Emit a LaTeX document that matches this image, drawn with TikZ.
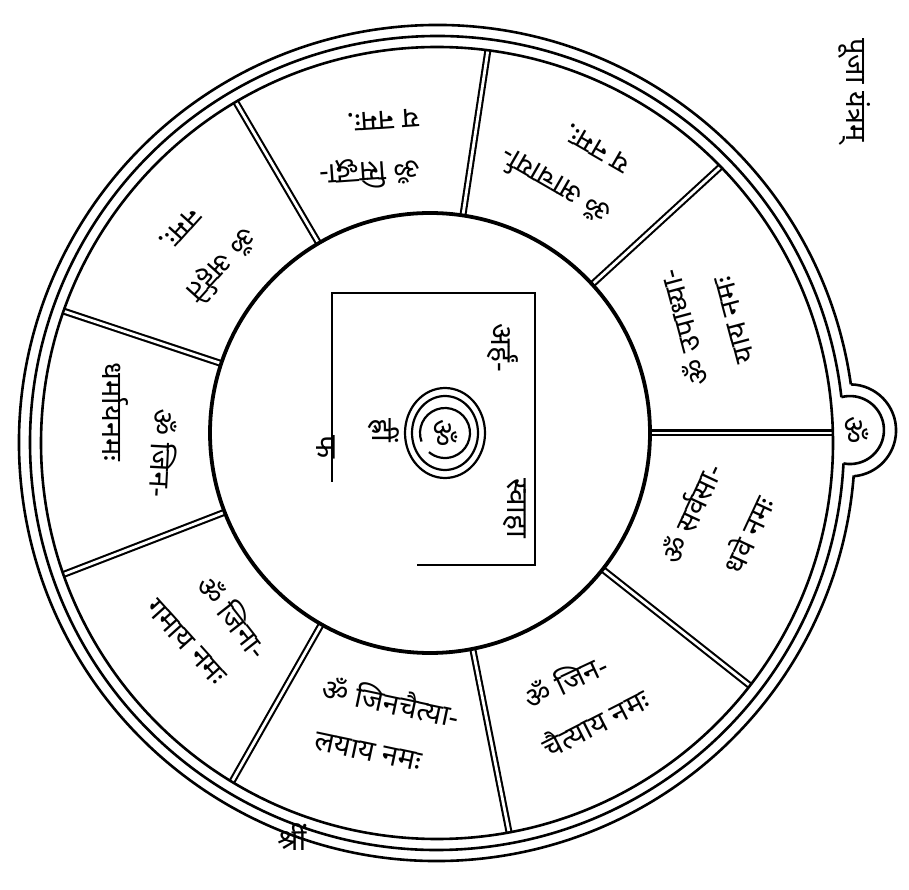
\documentclass[tikz,border=0pt]{standalone}
\usepackage{fontspec}
\newfontfamily\deva[Script=Devanagari]{Noto Sans}
\usetikzlibrary{calc}
\tikzset{
  ringline/.style={line width=2.6pt},
  divider/.style={line width=2.1pt, double distance=2.8pt},
  seg/.style={font=\deva\bfseries\fontsize{29}{31}\selectfont, inner sep=0pt},
  ctr/.style={font=\deva\bfseries\fontsize{30}{32}\selectfont, inner sep=0pt},
  rect/.style={line width=2.4pt},
}
\begin{document}
\begin{tikzpicture}[x=1pt,y=1pt]
\useasboundingbox (0,0) rectangle (909,889);
\coordinate (Co) at (437,446);
\coordinate (Ci) at (430,456);
\coordinate (L) at (850,459);
\coordinate (S) at (445,456);
% dividers
\begin{scope}
\clip (Co) circle[radius=396];
\foreach \a in {120.4,81.4,42.5,0,-38.3,-78.8,-119.6,-158.9,161.6}
  \draw[divider] ($(Ci)+(\a:200)$) -- ($(Ci)+(\a:430)$);
\end{scope}
% inner circle
\draw[line width=3.8pt, fill=white] (Ci) circle[radius=220];
% outer rings
\draw[ringline] (Co) circle[radius=396];
\draw[ringline] ($(Co)+(6.47:407)$) arc[start angle=6.47, end angle=357.13, radius=407];
\draw[ringline] ($(Co)+(8.06:418)$) arc[start angle=8.06, end angle=355.54, radius=418];
% lobe
\draw[ringline] ($(Co)+(8.06:418)$) arc[start angle=89, end angle=-85, radius=46];
\draw[ringline] ($(Co)+(6.47:407)$) arc[start angle=104.6, end angle=-101, radius=34];
\node[ctr, rotate=-90] (bump) at (856,459) {ॐ};
% segment texts
\node[seg, rotate=228] (s1a) at (222,624) {ॐ अर्हते};
\node[seg, rotate=228] (s1b) at (180,660) {नमः.};
\node[seg, rotate=184] (s2a) at (370,716) {ॐ सिद्धा-};
\node[seg, rotate=184] (s2b) at (383,769) {य नमः.};
\node[seg, rotate=150] (s3a) at (555,702) {ॐ आचार्या-};
\node[seg, rotate=150] (s3b) at (597,741) {य नमः.};
\node[seg, rotate=105] (s4a) at (683,561) {ॐ उपाध्या-};
\node[seg, rotate=105] (s4b) at (735,569) {याय नमः};
\node[seg, rotate=65] (s5a) at (690,376) {ॐ सर्वसा-};
\node[seg, rotate=65] (s5b) at (747,355) {धवे नमः};
\node[seg, rotate=25] (s6a) at (565,209) {ॐ जिन-};
\node[seg, rotate=27] (s6b) at (595,167) {चैत्याय नमः};
\node[seg, rotate=-12] (s7a) at (391,188) {ॐ जिनचैत्या-};
\node[seg, rotate=-12] (s7b) at (368,137) {लयाय नमः};
\node[seg, rotate=-52] (s8a) at (234,273) {ॐ जिना-};
\node[seg, rotate=-48] (s8b) at (186,247) {गमाय नमः};
\node[seg, rotate=-93] (s9a) at (164,436) {ॐ जिन-};
\node[seg, rotate=-90] (s9b) at (115,477) {धर्मायनमः};
% centre
\draw[rect] (332,407) -- (332,596) -- (535,596) -- (535,324) -- (417,324);
\draw[line width=2.2pt] (S) ellipse[x radius=40, y radius=45];
\draw[line width=2.2pt] (S) ellipse[x radius=33, y radius=37];
\draw[line width=2.2pt] ($(S)+(200:25)$) arc[start angle=200, end angle=-130, radius=25];
\node[ctr, rotate=-90] (om) at (S) {ॐ};
\node[ctr, rotate=-90] (hrim) at (384,459) {ह्रीं};
\node[ctr, rotate=-90] (arham) at (503,541) {अर्हं-};
\node[ctr, rotate=-90] (lower) at (515,381) {स्वाहा};
\node[ctr, rotate=-90] (left) at (326,442) {फ};
% outer labels
\node[font=\deva\bfseries\fontsize{29}{31}\selectfont, rotate=-90, inner sep=0pt] (title) at (855,799) {पूजा यंत्रम्};
\node[ctr] (shri) at (292,52) {श्रीं};
\end{tikzpicture}
\end{document}
